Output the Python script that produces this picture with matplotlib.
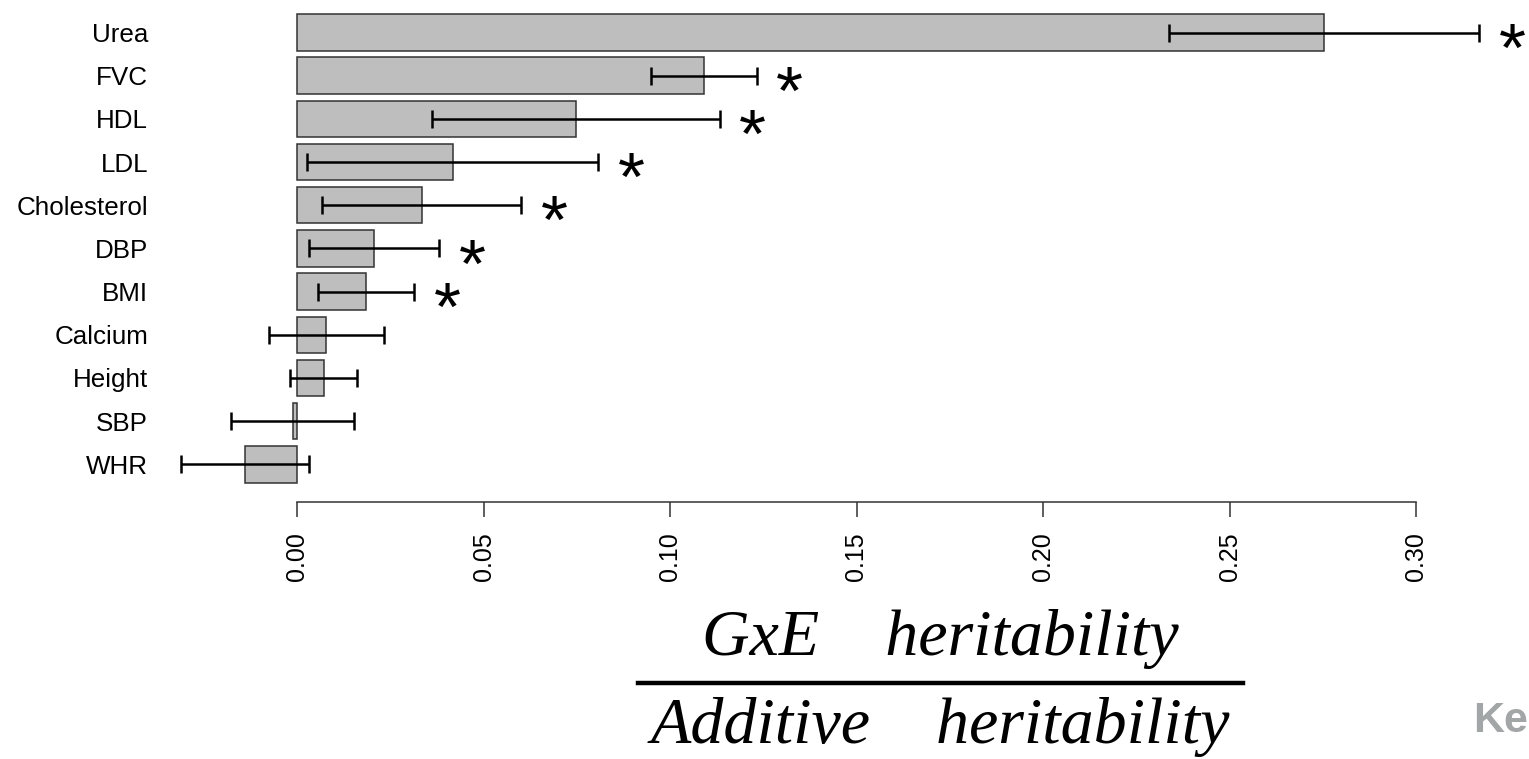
import numpy as np
import matplotlib.pyplot as plt
from matplotlib.lines import Line2D

plt.rcParams["font.family"] = ["Liberation Sans", "DejaVu Sans"]

# ratio of GxE to additive heritability, with symmetric CI half widths
traits = ["Urea", "FVC", "HDL", "LDL", "Cholesterol", "DBP", "BMI",
          "Calcium", "Height", "SBP", "WHR"]
ratio = [0.2753, 0.1090, 0.0748, 0.0417, 0.0334, 0.0207, 0.0185,
         0.0079, 0.0072, -0.0012, -0.0139]
half_ci = [0.0416, 0.0142, 0.0385, 0.0390, 0.0267, 0.0175, 0.0130,
           0.0153, 0.0090, 0.0164, 0.0172]
significant = [True, True, True, True, True, True, True,
               False, False, False, False]
xticks = [0.00, 0.05, 0.10, 0.15, 0.20, 0.25, 0.30]

W, H = 1529, 759
fig = plt.figure(figsize=(W / 100, H / 100), dpi=100)

# axes geometry in pixels
ax_left, ax_bottom = 160, 501.7
x0_px, px_per_unit = 297, 3730
pitch = 43.18
ax = fig.add_axes([ax_left / W, 1 - ax_bottom / H, (W - ax_left) / W, ax_bottom / H])
ax.set_xlim((ax_left - x0_px) / px_per_unit, (W - x0_px) / px_per_unit)
ax.set_ylim(-(ax_bottom - 464.3) / pitch, 10 + 32.5 / pitch)

y = np.arange(len(traits))[::-1]
ratio = np.array(ratio)
half_ci = np.array(half_ci)

ax.barh(y, ratio, height=0.845, color="#BEBEBE", edgecolor="#333333",
        linewidth=1.1, zorder=2)
ax.errorbar(ratio, y, xerr=half_ci, fmt="none", ecolor="black",
            elinewidth=1.8, capsize=6.5, capthick=1.8, zorder=3)

for yi, r, h, s in zip(y, ratio, half_ci, significant):
    if s:
        ax.annotate("*", xy=(r + h, yi), xytext=(33, -38),
                    textcoords="offset pixels", fontsize=50,
                    ha="center", va="baseline", annotation_clip=False)

for side in ["top", "right", "left"]:
    ax.spines[side].set_visible(False)
ax.spines["bottom"].set_bounds(0, 0.3)
ax.spines["bottom"].set_color("#333333")
ax.spines["bottom"].set_linewidth(1.1)

ax.set_xticks(xticks)
ax.set_xticklabels(["%.2f" % t for t in xticks], rotation=90)
ax.tick_params(axis="x", length=11, width=1.1, color="#333333",
               pad=10.8, labelsize=18)
ax.set_yticks(y)
ax.set_yticklabels(traits)
ax.tick_params(axis="y", length=0, pad=8.6, labelsize=18.7)

# fraction label under the axis
serif = dict(family=["Liberation Serif", "DejaVu Serif"], style="italic",
             size=47.5, ha="center", va="baseline")
fig.text(940 / W, 1 - 655 / H, "GxE    heritability", **serif)
fig.add_artist(Line2D([638 / W, 1243 / W], [1 - 683 / H, 1 - 683 / H],
                      color="black", linewidth=3.2))
fig.text(940 / W, 1 - 743 / H, "Additive    heritability", **serif)

fig.text(1473 / W, 1 - 732 / H, "Ke", color="#A3A6A6", size=31,
         weight="bold", va="baseline")

fig.savefig("out.png", dpi=100)
